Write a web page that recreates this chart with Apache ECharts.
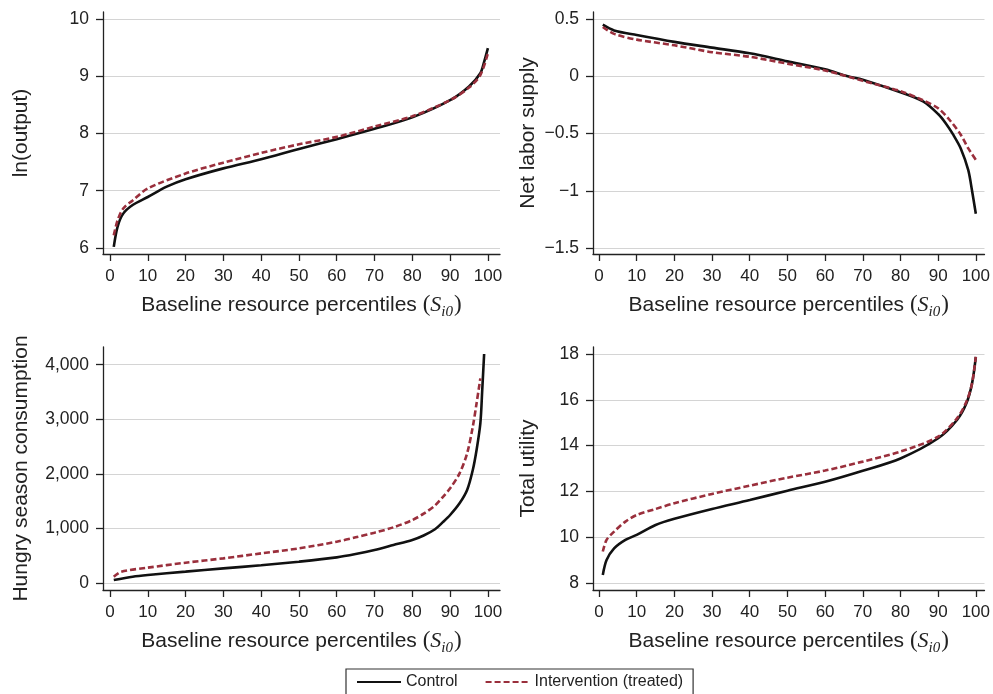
<!DOCTYPE html>
<html><head><meta charset="utf-8">
<script src="https://cdn.jsdelivr.net/npm/echarts@6/dist/echarts.min.js"></script>
<style>html,body{margin:0;padding:0;background:#fff}#c{width:993px;height:694px}</style>
</head><body><div id="c"></div>
<script>
// ---- Data ----
const xTicks = [0,10,20,30,40,50,60,70,80,90,100];

const p1CtrlX = [1, 2, 3.5, 6, 10, 15, 20, 30, 40, 50, 60, 70, 80, 90, 95, 98, 99, 100];
const p1CtrlY = [6.02, 6.37, 6.6, 6.75, 6.89, 7.07, 7.2, 7.39, 7.55, 7.73, 7.9, 8.08, 8.28, 8.58, 8.82, 9.05, 9.25, 9.49];
const p1TrtX  = [1, 2, 3.5, 6, 10, 20, 30, 40, 50, 60, 70, 80, 90, 95, 98, 100];
const p1TrtY  = [6.22, 6.48, 6.69, 6.83, 7.04, 7.3, 7.49, 7.66, 7.81, 7.94, 8.12, 8.3, 8.58, 8.8, 9.02, 9.4];
const p1YTicks = [6,7,8,9,10];

const p2CtrlX = [1, 4, 10, 20, 30, 40, 50, 60, 66, 70, 80, 86, 90, 92, 94, 96, 98, 99, 100];
const p2CtrlY = [0.45, 0.40, 0.36, 0.30, 0.25, 0.20, 0.13, 0.06, 0.0, -0.03, -0.14, -0.22, -0.33, -0.41, -0.51, -0.63, -0.82, -1.0, -1.2];
const p2TrtX  = [1, 4, 10, 20, 30, 40, 50, 60, 70, 80, 86, 90, 93, 96, 98, 100];
const p2TrtY  = [0.43, 0.37, 0.32, 0.27, 0.21, 0.17, 0.11, 0.05, -0.04, -0.13, -0.21, -0.28, -0.38, -0.51, -0.63, -0.73];
const p2YTicks = [-1.5,-1,-0.5,0,0.5];

const p3CtrlX = [1, 6, 10, 20, 30, 40, 50, 60, 65, 70, 75, 80, 83, 86, 88, 90, 92.5, 94.5, 96, 97, 98, 98.5, 99];
const p3CtrlY = [55, 116, 147, 208, 269, 324, 391, 470, 531, 605, 696, 788, 870, 985, 1110, 1246, 1460, 1704, 2070, 2437, 2925, 3536, 4195];
const p3TrtX  = [1, 3, 10, 20, 30, 40, 50, 60, 65, 70, 75, 80, 83, 86, 88, 90, 92.5, 94.5, 96, 97, 98];
const p3TrtY  = [116, 208, 281, 372, 452, 543, 635, 757, 837, 922, 1020, 1154, 1270, 1420, 1570, 1734, 2009, 2376, 2864, 3292, 3750];
const p3YTicks = [0,1000,2000,3000,4000];

const p4X     = [1, 2, 4, 7, 10, 15, 20, 30, 40, 50, 60, 70, 80, 90, 95, 97.5, 99, 100];
const p4CtrlY = [8.35, 9.0, 9.51, 9.88, 10.1, 10.53, 10.8, 11.23, 11.62, 12.03, 12.42, 12.9, 13.44, 14.32, 15.12, 15.85, 16.72, 17.88];
const p4TrtY  = [9.37, 9.88, 10.24, 10.68, 10.97, 11.23, 11.48, 11.89, 12.25, 12.6, 12.91, 13.3, 13.74, 14.39, 15.19, 15.92, 16.72, 17.88];
const p4YTicks = [8,10,12,14,16,18];

const yTitles = ['ln(output)', 'Net labor supply', 'Hungry season consumption', 'Total utility'];
const seriesNames = ['Control', 'Intervention (treated)'];

// ---- Styling / layout ----
const FONT = 'Liberation Sans';
const CTRL = '#111111', TRT = '#9a2f3c';
const zip = (xs, ys) => xs.map((x, i) => [x, ys[i]]);
const fmtNum = v => {
  let s = Math.abs(v).toLocaleString('en-US');
  return (v < 0 ? '\u2212' : '') + s;
};

const grids = [
  {left:103, top:12,  width:397, height:242},
  {left:593, top:12,  width:394, height:242},
  {left:103, top:347, width:397, height:243},
  {left:593, top:347, width:394, height:243}
];
const yRanges = [
  {min:5.895, max:10.12, ticks:p1YTicks, gap:71},
  {min:-1.552, max:0.561, ticks:p2YTicks, gap:54},
  {min:-128, max:4324, ticks:p3YTicks, gap:71},
  {min:7.69, max:18.31, ticks:p4YTicks, gap:54}
];
const xRanges = [
  {min:-1.85, max:103.2},
  {min:-1.6, max:102.3},
  {min:-1.85, max:103.2},
  {min:-1.6, max:102.3}
];

const axisLineStyle = {color:'#222', width:1.3};
const xName = 'Baseline resource percentiles {t|(}{s|S}{sub|i0}{t|)}';
const nameRich = {
  t:{fontFamily:'Liberation Serif', fontSize:23, color:'#222', lineHeight:26},
  s:{fontFamily:'Liberation Serif', fontStyle:'italic', fontSize:22, color:'#222', lineHeight:26},
  sub:{fontFamily:'Liberation Serif', fontStyle:'italic', fontSize:15, color:'#222', lineHeight:14, verticalAlign:'bottom', padding:[0,1,-2,0]}
};

const xAxes = grids.map((g, i) => ({
  type:'value', gridIndex:i, min:xRanges[i].min, max:xRanges[i].max,
  name:xName, nameLocation:'middle', nameGap:38,
  nameTextStyle:{fontFamily:FONT, fontSize:21, color:'#222', rich:nameRich},
  axisLine:{show:true, onZero:false, lineStyle:axisLineStyle},
  axisTick:{show:true, length:7, lineStyle:axisLineStyle, customValues:xTicks},
  axisLabel:{fontFamily:FONT, fontSize:17, color:'#222', margin:14, customValues:xTicks},
  splitLine:{show:false}
}));
const yAxes = grids.map((g, i) => ({
  type:'value', gridIndex:i, min:yRanges[i].min, max:yRanges[i].max,
  name:yTitles[i], nameLocation:'middle', nameGap:yRanges[i].gap,
  nameTextStyle:{fontFamily:FONT, fontSize:21, color:'#222'},
  axisLine:{show:true, onZero:false, lineStyle:axisLineStyle},
  axisTick:{show:true, length:7, lineStyle:axisLineStyle, customValues:yRanges[i].ticks},
  axisLabel:{fontFamily:FONT, fontSize:17.5, color:'#222', margin:14, customValues:yRanges[i].ticks, formatter:fmtNum},
  splitLine:{show:true, lineStyle:{color:'#d4d4d4', width:1.2}}
}));

const mk = (name, idx, data, isTrt) => ({
  name, type:'line', xAxisIndex:idx, yAxisIndex:idx, data,
  symbol:'none', showSymbol:false, smooth:0.3,
  lineStyle: isTrt ? {color:TRT, width:2.6, type:[6,3]} : {color:CTRL, width:2.6},
  itemStyle:{color: isTrt ? TRT : CTRL},
  z: isTrt ? 3 : 2, silent:true
});

const series = [
  mk(seriesNames[0], 0, zip(p1CtrlX, p1CtrlY), false),
  mk(seriesNames[1], 0, zip(p1TrtX, p1TrtY), true),
  mk(seriesNames[0], 1, zip(p2CtrlX, p2CtrlY), false),
  mk(seriesNames[1], 1, zip(p2TrtX, p2TrtY), true),
  mk(seriesNames[0], 2, zip(p3CtrlX, p3CtrlY), false),
  mk(seriesNames[1], 2, zip(p3TrtX, p3TrtY), true),
  mk(seriesNames[0], 3, zip(p4X, p4CtrlY), false),
  mk(seriesNames[1], 3, zip(p4X, p4TrtY), true)
];

const chart = echarts.init(document.getElementById('c'), null, {renderer:'canvas'});
chart.setOption({
  backgroundColor:'#fff',
  animation:false,
  grid:grids,
  xAxis:xAxes,
  yAxis:yAxes,
  legend:{
    data:seriesNames, left:346, top:669,
    padding:[5,10,14,10], itemGap:27, itemWidth:44, itemHeight:14,
    borderColor:'#333', borderWidth:1.2, borderRadius:0,
    itemStyle:{opacity:0},
    textStyle:{fontFamily:FONT, fontSize:16, color:'#222'},
    selectedMode:false
  },
  series
});
</script></body></html>
